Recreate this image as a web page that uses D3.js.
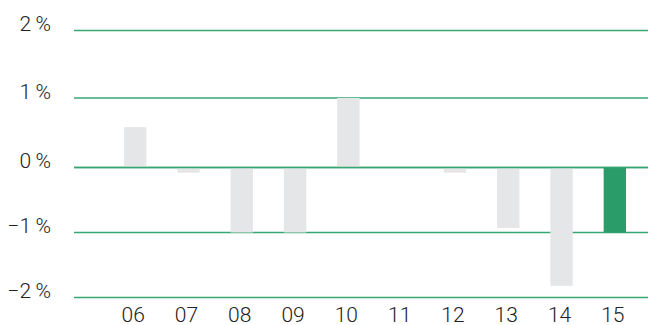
<!DOCTYPE html>
<html>
<head>
<meta charset="utf-8">
<script src="https://cdn.jsdelivr.net/npm/d3@7"></script>
<style>
  html, body { margin: 0; padding: 0; background: #fff; }
  svg { display: block; }
  text { font-family: Roboto, "Helvetica Neue", Arial, sans-serif; fill: #222; }
</style>
</head>
<body>
<svg id="chart" width="648" height="325"></svg>
<script>
// Year labels along the bottom axis
const years = ["06", "07", "08", "09", "10", "11", "12", "13", "14", "15"];
// Annual change, in percent
const changes = [0.58, -0.08, -1.0, -1.0, 1.0, 0, -0.08, -0.93, -1.82, -1.0];
// Latest year, drawn in the accent colour
const highlightYear = "15";
// Gridline values and their labels
const yTicks = [2, 1, 0, -1, -2];
const yTickLabels = ["2\u2009%", "1\u2009%", "0\u2009%", "\u22121\u2009%", "\u22122\u2009%"];

const svg = d3.select("#chart");

const x = d3.scaleBand()
  .domain(years)
  .range([108.5, 641.5])
  .paddingInner(0.58)
  .paddingOuter(0.29);

const y = d3.scaleLinear()
  .domain([-2, -1, 0, 1, 2])
  .range([297.5, 232.5, 167.5, 98, 30.5]);

// Horizontal gridlines
svg.append("g")
  .selectAll("line")
  .data(yTicks)
  .join("line")
  .attr("x1", 74)
  .attr("x2", 648)
  .attr("y1", d => y(d))
  .attr("y2", d => y(d))
  .attr("stroke", "#36a673")
  .attr("stroke-width", 1.3);

// Bars
svg.append("g")
  .selectAll("rect")
  .data(years.map((yr, i) => ({ yr, v: changes[i] })))
  .join("rect")
  .attr("x", d => x(d.yr))
  .attr("width", x.bandwidth())
  .attr("y", d => y(Math.max(0, d.v)))
  .attr("height", d => Math.abs(y(d.v) - y(0)))
  .attr("fill", d => d.yr === highlightYear ? "#2a9c6a" : "#e5e6e7");

// Redraw the zero line over the bars
svg.append("line")
  .attr("x1", 74).attr("x2", 648)
  .attr("y1", y(0)).attr("y2", y(0))
  .attr("stroke", "#36a673")
  .attr("stroke-width", 1.3);

// Y axis labels
svg.append("g")
  .selectAll("text")
  .data(yTicks)
  .join("text")
  .attr("x", 51)
  .attr("y", d => y(d) + 0.5)
  .attr("text-anchor", "end")
  .attr("font-size", 21)
  .attr("font-weight", 300)
  .text((d, i) => yTickLabels[i]);

// X axis labels
svg.append("g")
  .selectAll("text")
  .data(years)
  .join("text")
  .attr("x", d => x(d) + x.bandwidth() / 2 - 2)
  .attr("y", 322)
  .attr("text-anchor", "middle")
  .attr("font-size", 21)
  .attr("font-weight", 300)
  .text(d => d);
</script>
</body>
</html>
